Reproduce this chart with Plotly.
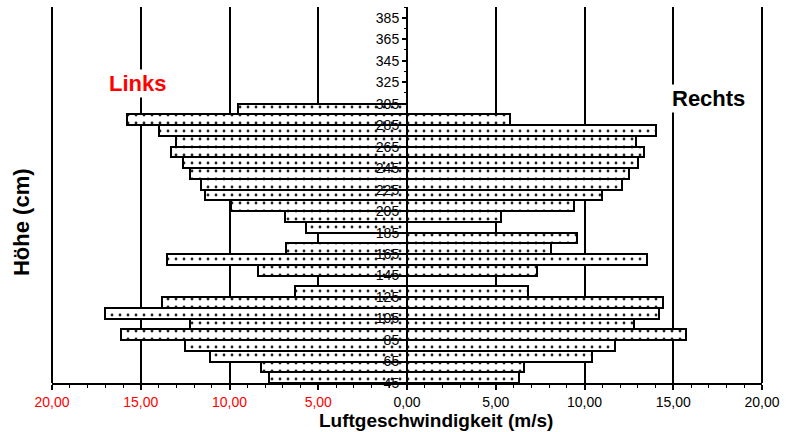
import plotly.graph_objects as go

# Höhe (cm), bar centres
heights = [50, 60, 70, 80, 90, 100, 110, 120, 130, 140, 150, 160, 170,
           180, 190, 200, 210, 220, 230, 240, 250, 260, 270, 280, 290, 300]
# Luftgeschwindigkeit links (m/s)
links = [7.8, 8.2, 11.1, 12.5, 16.1, 12.2, 17.0, 13.8, 6.3, None, 8.4, 13.5, 6.8,
         None, 5.7, 6.9, 9.9, 11.4, 11.6, 12.2, 12.6, 13.3, 13.0, 14.0, 15.8, 9.5]
# Luftgeschwindigkeit rechts (m/s)
rechts = [6.3, 6.6, 10.4, 11.7, 15.7, 12.8, 14.2, 14.4, 6.8, None, 7.3, 13.5, 8.1,
          9.6, None, 5.3, 9.4, 11.0, 12.1, 12.5, 13.0, 13.35, 12.9, 14.0, 5.8, None]

x_tickvals = [-20, -15, -10, -5, 0, 5, 10, 15, 20]
x_ticklabels = ['<span style="color:red">20,00</span>',
                '<span style="color:red">15,00</span>',
                '<span style="color:red">10,00</span>',
                '<span style="color:red">5,00</span>',
                '0,00', '5,00', '10,00', '15,00', '20,00']
y_tickvals = [45, 65, 85, 105, 125, 145, 165, 185, 205, 225, 245, 265,
              285, 305, 325, 345, 365, 385]

FONT = "Liberation Sans, Arial, sans-serif"

bar_style = dict(
    color="white",
    line=dict(color="black", width=2),
    pattern=dict(shape=".", fgcolor="#222222", bgcolor="white",
                 size=8, solidity=0.1, fillmode="replace"),
)

fig = go.Figure()
fig.add_trace(go.Bar(
    y=heights, x=[(-v if v is not None else None) for v in links],
    orientation="h", width=10, marker=bar_style, name="Links",
    showlegend=False,
))
fig.add_trace(go.Bar(
    y=heights, x=rechts,
    orientation="h", width=10, marker=bar_style, name="Rechts",
    showlegend=False,
))

fig.update_layout(
    width=786, height=432,
    margin=dict(l=52, r=24, t=7, b=49),
    paper_bgcolor="white", plot_bgcolor="white",
    barmode="overlay",
    bargap=0,
    font=dict(family=FONT, size=14, color="black"),
    xaxis=dict(
        range=[-20, 20],
        tickvals=x_tickvals, ticktext=x_ticklabels,
        showgrid=True, gridcolor="black", gridwidth=1.6,
        zeroline=False,
        showline=True, linecolor="black", linewidth=2,
        ticks="outside", ticklen=5, tickwidth=1.5, tickcolor="black",
        minor=dict(dtick=1, ticks="outside", ticklen=3, tickwidth=1,
                   tickcolor="black", showgrid=False),
        ticklabelstandoff=0,
        tickfont=dict(family=FONT, size=14, color="black"),
        fixedrange=True,
    ),
    yaxis=dict(
        range=[45, 395],
        anchor="free", position=0.5,
        tickvals=y_tickvals,
        showgrid=False, zeroline=False,
        showline=True, linecolor="black", linewidth=2,
        ticks="outside", ticklen=4, tickwidth=1.5, tickcolor="black",
        minor=dict(tickvals=[v + 10 for v in y_tickvals], ticks="outside",
                   ticklen=2, tickwidth=1, tickcolor="black", showgrid=False),
        tickfont=dict(family=FONT, size=14, color="black"),
        fixedrange=True,
    ),
    shapes=[
        dict(type="line", xref="paper", yref="paper", x0=0, x1=0, y0=0, y1=1,
             line=dict(color="black", width=2), layer="below"),
        dict(type="line", xref="paper", yref="paper", x0=1, x1=1, y0=0, y1=1,
             line=dict(color="black", width=2), layer="below"),
    ],
    annotations=[
        dict(text="<b>Links</b>", x=-15.2, y=324, xref="x", yref="y",
             showarrow=False, bgcolor="white",
             font=dict(family=FONT, size=22, color="red")),
        dict(text="<b>Rechts</b>", x=17.0, y=310, xref="x", yref="y",
             showarrow=False, bgcolor="white",
             font=dict(family=FONT, size=22, color="black")),
        dict(text="<b>Luftgeschwindigkeit (m/s)</b>", x=0.541, y=0,
             yshift=-37, borderpad=0,
             xref="paper", yref="paper", xanchor="center", yanchor="middle",
             showarrow=False, font=dict(family=FONT, size=19, color="black")),
        dict(text="<b>Höhe (cm)</b>", x=-0.0437, y=0.428, textangle=-90,
             xref="paper", yref="paper", xanchor="center", yanchor="middle",
             showarrow=False, font=dict(family=FONT, size=22, color="black")),
    ],
)

fig.write_html(
    "out.html",
    config={"displayModeBar": False},
    post_script="document.body.style.margin='0';document.body.style.padding='0';",
)
